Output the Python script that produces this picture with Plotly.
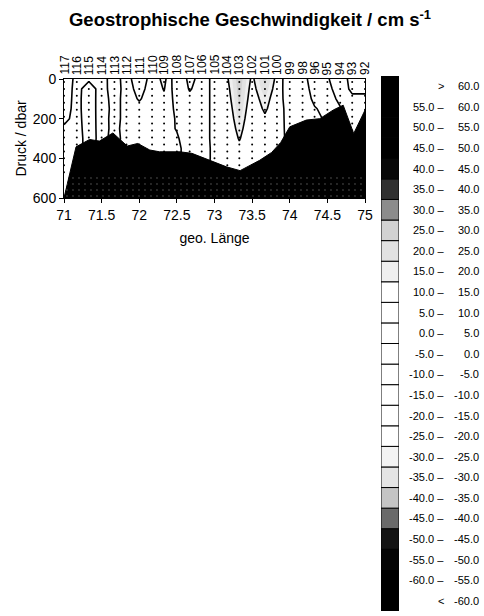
import numpy as np
import plotly.graph_objects as go

W, H = 484, 616

# ---------------- data ----------------
station_ids = [117, 116, 115, 114, 113, 112, 111, 110, 109, 108, 107, 106, 105,
               104, 103, 102, 101, 100, 99, 98, 96, 95, 94, 93, 92]
station_lon = [71.00, 71.17, 71.33, 71.50, 71.67, 71.83, 72.00, 72.17, 72.33,
               72.50, 72.67, 72.83, 73.00, 73.17, 73.33, 73.50, 73.67, 73.83,
               74.00, 74.17, 74.33, 74.50, 74.67, 74.83, 75.00]

depths = [0, 50, 100, 150, 200, 250, 300, 350, 400, 450, 500, 600]

# geostrophic velocity profiles (cm/s), one list per station, at `depths`
velocity_profiles = [
    [-7, -7, -6, -5, -3, 2, 3, 3, 3, 3, 3, 3],            # 117
    [3, 4, 4, 4, 4, 4, 4, 3, 3, 3, 3, 3],                 # 116
    [2, -6, -7, -7, -6, -5, -4, -3, -3, -3, -3, -3],      # 115
    [4, 5, 6, 6, 5, 4, 3, 3, 3, 3, 3, 3],                 # 114
    [-5, -6, -5, -4, -4, -3, -3, -2, -2, -2, -2, -2],     # 113
    [5, 5, 5, 4, 4, 4, 3, 3, 3, 3, 3, 3],                 # 112
    [-8, -4, -1, 3, 4, 4, 4, 3, 3, 3, 3, 3],              # 111
    [5, 5, 5, 5, 4, 4, 4, 3, 3, 3, 3, 3],                 # 110
    [20, 16, 12, 8, 5, 3, 2, 2, 2, 2, 2, 2],              # 109
    [-13, -10, -6, -3, -1, -0.5, 1, 2, 2, 2, 2, 2],       # 108
    [4, 1, -3, -5, -5, -5, -5, -4, -4, -3, -3, -3],       # 107
    [-5, -5, -5, -5, -5, -5, -5, -4, -4, -3, -3, -3],     # 106
    [3, 3, 3, 3, 3, 3, 3, 2, 2, 2, 2, 2],                 # 105
    [14, 12, 10, 8, 7, 6, 5, 4, 3, 3, 2, 2],              # 104
    [29, 28, 27, 25, 22, 19, 16, 12, 8, 5, 3, 2],         # 103
    [13, 11, 9, 7, 6, 5, 4, 3, 2, 2, 2, 2],               # 102
    [27, 24, 20, 17, 13, 10, 8, 6, 4, 3, 2, 2],           # 101
    [12, 10, 8, 7, 5, 4, 3, 2, 2, 2, 2, 2],               # 100
    [-14, -12, -9, -6, -4, -3, -2, -2, -2, -2, -2, -2],   # 99
    [-4, -6, -8, -8, -6, -5, -4, -3, -3, -3, -3, -3],     # 98
    [6, 5, 3, -1, -3, -3, -3, -3, -3, -3, -3, -3],        # 96
    [1, 3, 6, 4, 2, 1, 1, 1, 1, 1, 1, 1],                 # 95
    [-6, -5, -3, 1, 2, 2, 2, 2, 2, 2, 2, 2],              # 94
    [4, 2, -2, -3, -3, -2, -1, -1, -1, -1, -1, -1],       # 93
    [2, 1, -1, -2, -2, -2, -2, -2, -2, -2, -2, -2],       # 92
]

# measurement depths (dots along each station)
sample_depths = [15, 50, 85, 120, 155, 190, 225, 260, 295, 330, 365, 400, 435, 470]

# sea-floor profile
bottom_lon = [71.0, 71.16, 71.34, 71.47, 71.65, 71.84, 71.98, 72.14, 72.27, 72.54,
              72.70, 72.94, 73.16, 73.34, 73.60, 73.76, 73.88, 74.0, 74.22, 74.40,
              74.58, 74.71, 74.85, 75.0]
bottom_depth = [600, 342, 305, 313, 272, 338, 325, 358, 367, 367,
                375, 409, 443, 462, 410, 370, 320, 241, 207, 200,
                156, 132, 275, 157]
DEPTH_MAX = 600
SEDIMENT_TOP = 480

# class colours (from < -60 up to > 60, step 5)
class_colors = [
    "#000000", "#000000", "#050505", "#141414", "#6a6a6a", "#c4c4c4", "#e4e4e4",
    "#f3f3f3", "#ffffff", "#ffffff", "#ffffff", "#ffffff", "#ffffff", "#ffffff",
    "#ffffff", "#ffffff", "#efefef", "#e2e2e2", "#d2d2d2", "#8c8c8c", "#303030",
    "#080808", "#000000", "#000000", "#000000", "#000000",
]
class_left = ["<"] + [f"{-65 + 5 * k:.1f} \u2013" for k in range(1, 25)] + [">"]
class_right = ["-60.0"] + [f"{-60 + 5 * k:.1f}" for k in range(1, 25)] + ["60.0"]

FONT = "Liberation Sans, Arial, Helvetica, sans-serif"

# ---------------- build ----------------
nst = len(station_lon)
z = [[velocity_profiles[s][d] for s in range(nst)] for d in range(len(depths))]

ncls = len(class_colors)
colorscale = []
for k, c in enumerate(class_colors):
    lo = max(0.0, (k - 0.5) / (ncls - 1))
    hi = min(1.0, (k + 0.5) / (ncls - 1))
    colorscale.append([lo, c])
    colorscale.append([hi, c])

fig = go.Figure()

fig.add_trace(go.Contour(
    x=station_lon, y=depths, z=z,
    colorscale=colorscale, showscale=False,
    contours=dict(start=-60, end=60, size=5, coloring="fill", showlines=False),
    line=dict(width=0, smoothing=0), hoverinfo="skip",
))
fig.add_trace(go.Contour(
    x=station_lon, y=depths, z=z, showscale=False,
    contours=dict(start=-15, end=15, size=15, coloring="none"),
    line=dict(color="black", width=1.6, smoothing=0), hoverinfo="skip",
))

dot_x = [lon for lon in station_lon for _ in sample_depths]
dot_y = [d for _ in station_lon for d in sample_depths]
fig.add_trace(go.Scatter(x=dot_x, y=dot_y, mode="markers",
                         marker=dict(size=2, color="black"), hoverinfo="skip"))

fig.add_trace(go.Scatter(
    x=bottom_lon + [bottom_lon[-1], bottom_lon[0]],
    y=bottom_depth + [DEPTH_MAX, DEPTH_MAX],
    mode="lines", fill="toself", fillcolor="black",
    line=dict(color="black", width=1), hoverinfo="skip",
))

sed_left = float(np.interp(SEDIMENT_TOP, [bottom_depth[1], bottom_depth[0]],
                           [bottom_lon[1], bottom_lon[0]]))
fig.add_trace(go.Scatter(
    x=[sed_left, bottom_lon[-1], bottom_lon[-1], bottom_lon[0]],
    y=[SEDIMENT_TOP, SEDIMENT_TOP, DEPTH_MAX, DEPTH_MAX],
    mode="lines", fill="toself", line=dict(width=0, color="black"),
    fillcolor="black",
    fillpattern=dict(shape=".", bgcolor="black", fgcolor="#cccccc",
                     size=6, solidity=0.08, fgopacity=0.25),
    hoverinfo="skip",
))

# legend boxes
fig.add_trace(go.Bar(
    x=[0.5] * ncls, y=[1] * ncls, base=list(range(ncls)), width=1,
    marker=dict(color=class_colors, line=dict(color="black", width=1)),
    xaxis="x2", yaxis="y2", hoverinfo="skip",
))

annotations = []
plot_top_px = 79
for sid, lon in zip(station_ids, station_lon):
    annotations.append(dict(
        x=lon, xref="x", y=(H - plot_top_px + 2) / H, yref="paper",
        text=str(sid), textangle=-90, showarrow=False,
        xanchor="center", yanchor="bottom",
        font=dict(family=FONT, size=12, color="black"),
    ))
for k in range(ncls):
    annotations.append(dict(
        x=446 / W, xref="paper", y=k + 0.5, yref="y2", text=class_left[k],
        showarrow=False, xanchor="right", yanchor="middle",
        font=dict(family=FONT, size=11, color="black"),
    ))
    annotations.append(dict(
        x=481 / W, xref="paper", y=k + 0.5, yref="y2", text=class_right[k],
        showarrow=False, xanchor="right", yanchor="middle",
        font=dict(family=FONT, size=11, color="black"),
    ))

fig.update_layout(
    width=W, height=H,
    margin=dict(l=0, r=0, t=0, b=0, autoexpand=False),
    paper_bgcolor="white", plot_bgcolor="white",
    showlegend=False,
    font=dict(family=FONT, size=14, color="black"),
    title=dict(
        text="<b>Geostrophische Geschwindigkeit / cm s<sup>-1</sup></b>",
        x=250 / W, xanchor="center", y=1 - 20 / H, yanchor="middle",
        font=dict(family=FONT, size=18.5, color="black"),
    ),
    xaxis=dict(
        domain=[64 / W, 365 / W], range=[71, 75], tick0=71, dtick=0.5,
        ticks="outside", ticklen=4, tickcolor="black",
        showline=True, linecolor="black", linewidth=1, mirror=True,
        showgrid=False, zeroline=False,
        tickfont=dict(size=14),
        title=dict(text="geo. Länge", standoff=11, font=dict(size=14)),
    ),
    yaxis=dict(
        domain=[(H - 198) / H, (H - 79) / H], range=[DEPTH_MAX, 0],
        tickvals=[0, 200, 400, 600],
        ticks="outside", ticklen=4, tickcolor="black",
        showline=True, linecolor="black", linewidth=1, mirror=True,
        showgrid=False, zeroline=False,
        tickfont=dict(size=14),
        title=dict(text="Druck / dbar", standoff=2, font=dict(size=14)),
    ),
    xaxis2=dict(domain=[381 / W, 399 / W], range=[0, 1], visible=False,
                anchor="y2"),
    yaxis2=dict(domain=[(H - 611) / H, (H - 76) / H], range=[0, ncls],
                visible=False, anchor="x2"),
    annotations=annotations,
)

fig.write_html(
    "out.html",
    config={"displayModeBar": False},
    post_script="document.body.style.margin='0px';document.body.style.overflow='hidden';",
)
